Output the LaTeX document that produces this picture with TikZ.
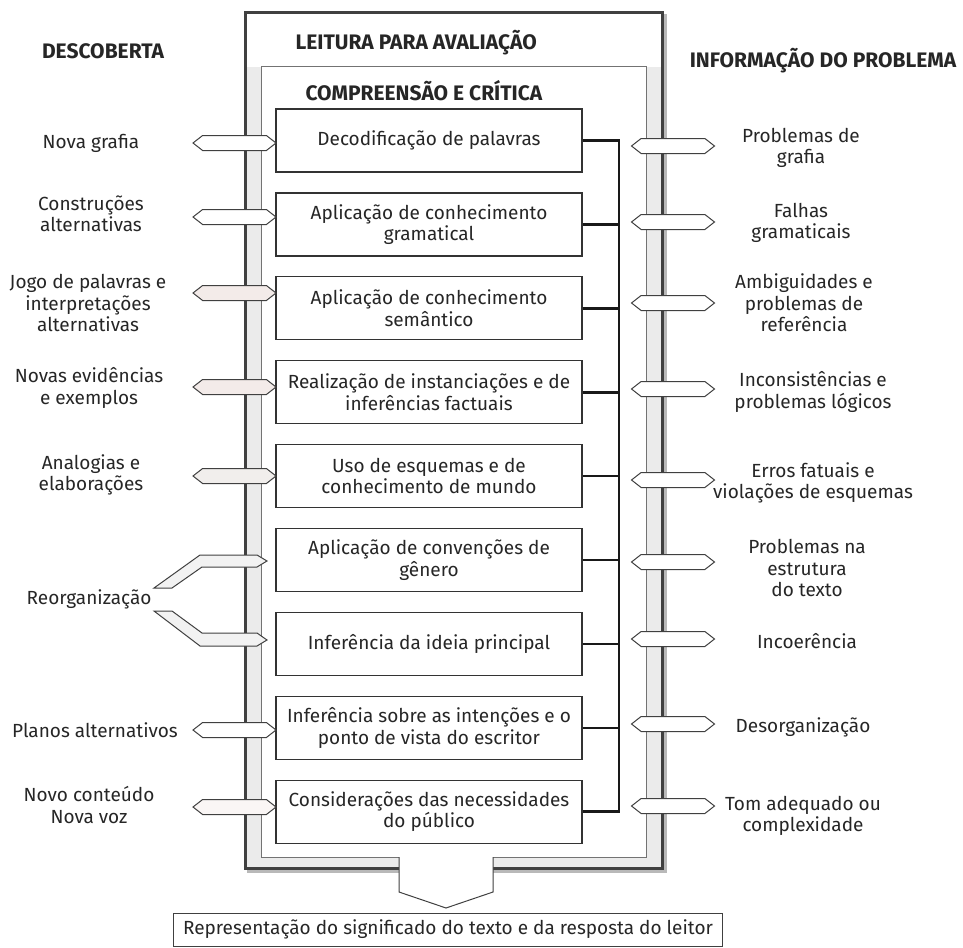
\documentclass[tikz,border=0pt]{standalone}
\usepackage{fontspec}
\setmainfont{Fira Sans}
\usetikzlibrary{shapes.arrows,positioning,calc}

\newcommand{\bodyfont}{\fontsize{19}{21.5}\selectfont}
\newcommand{\headfont}{\fontsize{21}{24}\selectfont\bfseries}

\begin{document}
\begin{tikzpicture}[x=1pt, y=-1pt,
        procbox/.style={rectangle, draw=black!80, line width=1.3pt, fill=white, minimum width=306pt, minimum height=63pt, align=center, font=\bodyfont, text=black!85, inner sep=2pt},
        side/.style={align=center, font=\bodyfont, text=black!85},
        head/.style={font=\headfont, text=black!85},
        hexarr/.style={double arrow, draw=black!75, line width=1pt, double arrow head extend=0pt, double arrow tip angle=76, minimum height=83pt, minimum width=15pt, inner sep=0pt},
        bent/.style={draw=black!75, line width=1pt, fill=black!5, line join=miter},
        bus/.style={line width=2.6pt, black!90, line join=miter}
    ]
        \useasboundingbox (0,0) rectangle (963,947);

        % Frame
        \draw[line width=3pt, gray!55] (248,16) rectangle (665,871);
        \draw[line width=3pt, black!75, fill=white] (245,13) rectangle (662,868);
        \fill[black!8] (246.5,67) rectangle (660.5,866.5);
        \draw[line width=1pt, black!55, fill=white] (261,67) rectangle (646,857);

        % Headings
        \node[head] (descob) at (103,51) {DESCOBERTA};
        \node[head, anchor=west] (leitura) at (292,43) {LEITURA PARA AVALIAÇÃO};
        \node[head, anchor=west] (compr) at (302,91) {COMPREENSÃO E CRÍTICA};
        \node[head] (info) at (823,61) {INFORMAÇÃO DO PROBLEMA};

        % Processes
        \node[procbox] (decod) at (429,140.5) {Decodificação de palavras};
        \node[procbox, below=19.6pt of decod] (gram) {Aplicação de conhecimento\\gramatical};
        \node[procbox, below=19.6pt of gram] (seman) {Aplicação de conhecimento\\semântico};
        \node[procbox, below=19.6pt of seman] (instanc) {Realização de instanciações e de\\inferências factuais};
        \node[procbox, below=19.6pt of instanc] (esquem) {Uso de esquemas e de\\conhecimento de mundo};
        \node[procbox, below=19.6pt of esquem] (genero) {Aplicação de convenções de\\gênero};
        \node[procbox, below=19.6pt of genero] (ideia) {Inferência da ideia principal};
        \node[procbox, below=19.6pt of ideia] (intenc) {Inferência sobre as intenções e o\\ponto de vista do escritor};
        \node[procbox, below=19.6pt of intenc] (publico) {Considerações das necessidades\\do público};

        % Bus on the right
        \coordinate (busx) at (619,0);
        \draw[bus] (decod.east) -- (decod.east -| busx) -- (publico.east -| busx) -- (publico.east);
        \foreach \b in {gram,seman,instanc,esquem,genero,ideia,intenc}
            \draw[bus] (\b.east) -- (\b.east -| busx);

        % Discovery side
        \node[hexarr, fill=white] (la1) at (234.5,143) {};
        \node[hexarr, fill=white] (la2) at (234.5,217) {};
        \node[hexarr, fill={rgb,255:red,243;green,235;blue,233}] (la3) at (234.5,293) {};
        \node[hexarr, fill={rgb,255:red,243;green,235;blue,233}] (la4) at (234.5,387) {};
        \node[hexarr, fill={rgb,255:red,241;green,238;blue,236}] (la5) at (234.5,476) {};
        \node[hexarr, fill=white] (la8) at (234.5,730) {};
        \node[hexarr, fill={rgb,255:red,250;green,246;blue,245}] (la9) at (234.5,807) {};

        \draw[bent] (200,555) -- (257,555) -- (267,561) -- (257,567) -- (202,567) -- (172,588) -- (154,588) -- cycle;
        \draw[bent] (154,611) -- (172,611) -- (202,633) -- (257,633) -- (267,640) -- (257,646) -- (200,646) -- cycle;

        \node[side] (novagraf) at (91,143) {Nova grafia};
        \node[side] (constr) at (91,214) {Construções\\alternativas};
        \node[side] (jogo) at (88,303) {Jogo de palavras e\\interpretações\\alternativas};
        \node[side] (evid) at (89,388) {Novas evidências\\e exemplos};
        \node[side] (analog) at (91,475) {Analogias e\\elaborações};
        \node[side, anchor=east] (reorg) at (155,599) {Reorganização};
        \node[side] (planos) at (95,730) {Planos alternativos};
        \node[side] (novocont) at (89,805) {Novo conteúdo\\Nova voz};

        % Problem side
        \foreach \y [count=\i] in {146,222,303,389,480,562,639,724,806}
            \node[hexarr, fill=white] (ra\i) at (673,\y) {};

        \node[side] (probgraf) at (801,148) {Problemas de\\grafia};
        \node[side] (falhas) at (801,223) {Falhas\\gramaticais};
        \node[side] (ambig) at (804,303) {Ambiguidades e\\problemas de\\referência};
        \node[side] (incons) at (813,392) {Inconsistências e\\problemas lógicos};
        \node[side] (erros) at (813,483) {Erros fatuais e\\violações de esquemas};
        \node[side] (estrut) at (807,568) {Problemas na\\estrutura\\do texto};
        \node[side] (incoer) at (807,641) {Incoerência};
        \node[side] (desorg) at (803,727) {Desorganização};
        \node[side] (tom) at (803,816) {Tom adequado ou\\complexidade};

        % Output
        \fill[white] (399,857) -- (399,892) -- (446,908) -- (493,892) -- (493,857) -- cycle;
        \draw[black!75, line width=1pt] (399,857) -- (399,892) -- (446,908) -- (493,892) -- (493,857);
        \node[draw=black!75, line width=1pt, minimum height=33pt, inner xsep=10pt, font=\bodyfont, text=black!85] (repres) at (448,929.5) {Representação do significado do texto e da resposta do leitor};
    \end{tikzpicture}
\end{document}
